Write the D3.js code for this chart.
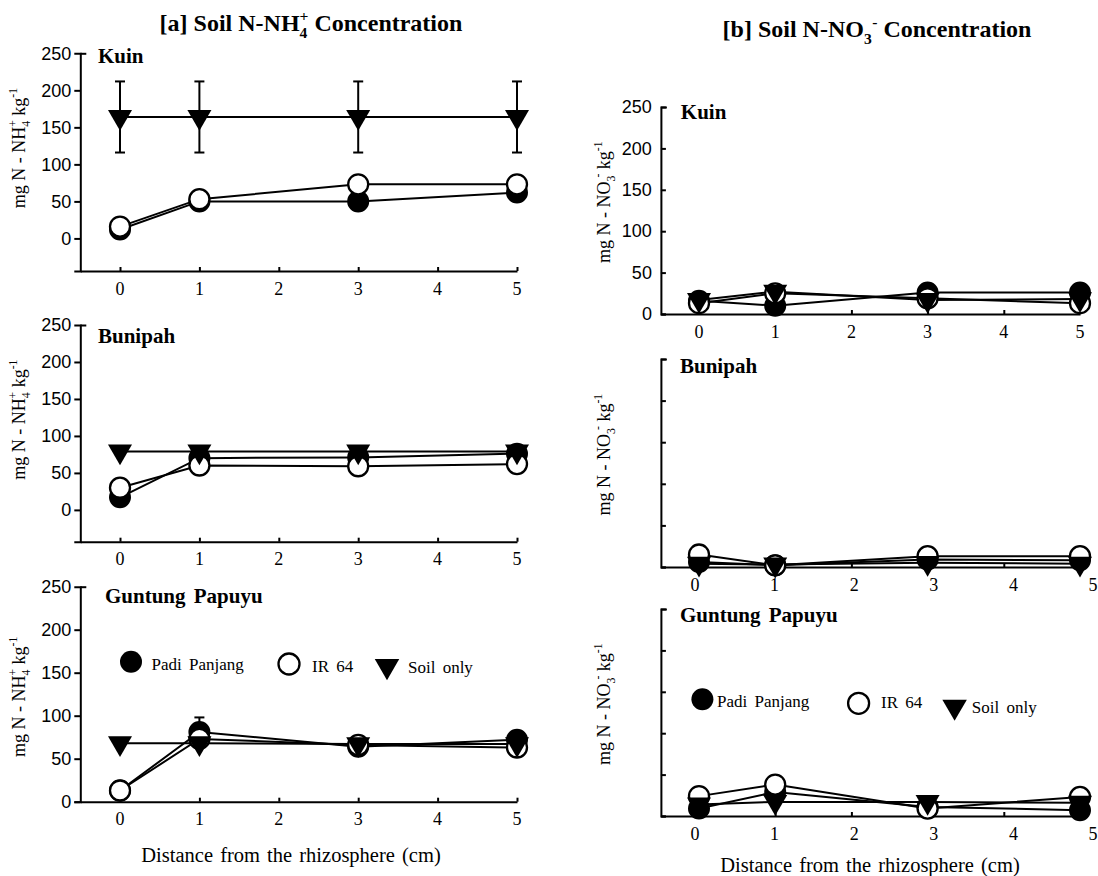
<!DOCTYPE html>
<html>
<head>
<meta charset="utf-8">
<script src="https://cdn.jsdelivr.net/npm/d3@7"></script>
<style>
	body{margin:0;background:#fff;}
	svg{display:block;font-family:"Liberation Serif","Times New Roman",serif;}
</style>
</head>
<body>
<svg id="chart" width="1098" height="876"></svg>
<script>
	var distances = [0, 1, 3, 5];
	var xTicks = [0, 1, 2, 3, 4, 5];
	var yTicks = [0, 50, 100, 150, 200, 250];
	var sites = ["Kuin", "Bunipah", "Guntung Papuyu"];
	var seriesNames = ["Padi Panjang", "IR 64", "Soil only"];

	// soil N-NH4+ (mg/kg), one row per site
	var nh4Padi = [[12,50,50,62],[17,70,71,76],[13,81,64,72]];
	var nh4IR64 = [[16,53,73,73],[30,60,59,62],[13,73,66,63]];
	var nh4Soil = [[164,164,164,164],[79,79,79,79],[68,68,67,67]];
	var nh4PadiErr = [[0,0,0,0],[0,0,0,0],[0,17,0,0]];
	var nh4SoilErr = [[48,48,48,48],[0,0,0,0],[0,0,0,0]];

	// soil N-NO3- (mg/kg)
	var no3Padi = [[16,10,26,26],[6,2,9,8],[9,29,11,7]];
	var no3IR64 = [[13,25,19,13],[15,2,13,13],[24,38,9,23]];
	var no3Soil = [[17,27,17,18],[4,3,5,4],[14,17,17,16]];

	var svg = d3.select("#chart");

	// layout of the six small plots
	var panels = [
		{col:"a",site:0,left:80.3,x5:517,top:53.3,bottom:271,ymin:-44,yLab:true,tickIn:false,lab:[98,63.3],xl:null},
		{col:"a",site:1,left:80.3,x5:517,top:325,bottom:541.7,ymin:-43,yLab:true,tickIn:false,lab:[98,343.3],xl:null},
		{col:"a",site:2,left:80.3,x5:517,top:586.7,bottom:801.7,ymin:0,yLab:true,tickIn:false,lab:[105,603.3],xl:null,
			legend:{c1:[131,661.7],t1:[151.5,670],c2:[289,664],t2:[312,672],c3:[387,666],t3:[408,673]}},
		{col:"b",site:0,left:660.9,x5:1080,top:107,bottom:314,ymin:0,yLab:true,tickIn:true,lab:[680.8,119],xl:null},
		{col:"b",site:1,left:660.9,x5:1080,top:359,bottom:567,ymin:0,yLab:false,tickIn:true,lab:[680,372.7],xl:[695,1093]},
		{col:"b",site:2,left:660.9,x5:1080,top:609,bottom:816,ymin:0,yLab:false,tickIn:true,lab:[680,621.7],xl:[695,1093],
			legend:{c1:[702.4,699.3],t1:[717,706.7],c2:[858.6,703.3],t2:[881,708],c3:[954.6,706.7],t3:[971.8,713]}}
	];

	function rich(sel, parts, fs) {
		var shift = 0;
		parts.forEach(function(p) {
			var ts = sel.append("tspan").text(p.t);
			var target = p.s=="sub" ? 0.3*fs : (p.s=="sup" ? -0.42*fs : 0);
			ts.attr("dy", target-shift);
			shift = target;
			if(p.s) ts.attr("font-size", fs*0.65);
			if(p.dx) ts.attr("dx", p.dx*fs);
		});
	}

	var tri = d3.symbol().type(d3.symbolTriangle).size(250);
	var triLeg = d3.symbol().type(d3.symbolTriangle).size(260);

	panels.forEach(function(p) {
		var isA = p.col=="a";
		var x = d3.scaleLinear().domain([-0.5,5]).range([p.left,p.x5]);
		var y = d3.scaleLinear().domain([p.ymin,250]).range([p.bottom,p.top]);
		var g = svg.append("g");

		// y axis
		var ya = d3.axisLeft(y).tickValues(yTicks).tickSizeOuter(0)
			.tickSize(p.tickIn ? -5 : 6).tickPadding(p.tickIn ? 9 : 3);
		if(!p.yLab) ya.tickFormat("");
		var yg = g.append("g").attr("transform","translate("+p.left+",0)").call(ya);
		yg.selectAll("text").attr("font-size",18).attr("fill","#000");
		yg.selectAll(".tick line").filter(function(d){return d==250;}).attr("x2",6);
		yg.selectAll("line,path").attr("stroke","#000").attr("stroke-width",2);

		// x axis
		var xa = d3.axisBottom(x).tickValues(xTicks).tickSize(-4).tickSizeOuter(0).tickFormat("");
		var xg = g.append("g").attr("transform","translate(0,"+p.bottom+")").call(xa);
		xg.selectAll("line,path").attr("stroke","#000").attr("stroke-width",2);
		var xl = p.xl ? d3.scaleLinear().domain([0,5]).range(p.xl) : x;
		g.selectAll(".xlab").data(xTicks).enter().append("text")
			.attr("x",function(d){return xl(d);})
			.attr("y",p.bottom+23.5)
			.attr("text-anchor","middle").attr("font-size",18).text(function(d){return d;});

		// y axis title
		var yt = g.append("text").attr("text-anchor","middle").attr("font-size",18)
			.attr("transform","translate("+(isA?25:610)+","+y(isA?122:135)+") rotate(-90)");
		if(isA) rich(yt,[{t:"mg N - NH"},{t:"4",s:"sub"},{t:"+",s:"sup",dx:-0.33},{t:" kg"},{t:"-1",s:"sup"}],18);
		else rich(yt,[{t:"mg N - NO"},{t:"3",s:"sub"},{t:"-",s:"sup",dx:-0.1},{t:" kg"},{t:"-1",s:"sup"}],18);

		// site name
		g.append("text").attr("x",p.lab[0]).attr("y",p.lab[1]).attr("font-size",21)
			.attr("font-weight","bold").attr("word-spacing",3).text(sites[p.site]);

		var padi = isA ? nh4Padi[p.site] : no3Padi[p.site];
		var ir = isA ? nh4IR64[p.site] : no3IR64[p.site];
		var soil = isA ? nh4Soil[p.site] : no3Soil[p.site];
		var padiErr = isA ? nh4PadiErr[p.site] : [0,0,0,0];
		var soilErr = isA ? nh4SoilErr[p.site] : [0,0,0,0];

		var line = d3.line().x(function(d,i){return x(distances[i]);}).y(function(d){return y(d);});
		[soil,padi,ir].forEach(function(s) {
			g.append("path").attr("d",line(s)).attr("fill","none").attr("stroke","#000").attr("stroke-width",2);
		});

		// error bars
		[[padi,padiErr],[soil,soilErr]].forEach(function(pair) {
			pair[0].forEach(function(v,i) {
				var e = pair[1][i];
				if(!e) return;
				var cx = x(distances[i]);
				g.append("line").attr("x1",cx).attr("x2",cx).attr("y1",y(v-e)).attr("y2",y(v+e))
					.attr("stroke","#000").attr("stroke-width",2);
				[v-e,v+e].forEach(function(w) {
					g.append("line").attr("x1",cx-5).attr("x2",cx+5).attr("y1",y(w)).attr("y2",y(w))
						.attr("stroke","#000").attr("stroke-width",2);
				});
			});
		});

		g.selectAll(".padi").data(padi).enter().append("circle")
			.attr("cx",function(d,i){return x(distances[i]);}).attr("cy",function(d){return y(d);})
			.attr("r",10).attr("fill","#000").attr("stroke","#000").attr("stroke-width",2);
		g.selectAll(".ir").data(ir).enter().append("circle")
			.attr("cx",function(d,i){return x(distances[i]);}).attr("cy",function(d){return y(d);})
			.attr("r",10).attr("fill","#fff").attr("stroke","#000").attr("stroke-width",2.3);
		g.selectAll(".soil").data(soil).enter().append("path")
			.attr("d",tri)
			.attr("transform",function(d,i){return "translate("+x(distances[i])+","+y(d)+") rotate(180)";})
			.attr("fill","#000");

		if(p.legend) {
			var L = p.legend;
			g.append("circle").attr("cx",L.c1[0]).attr("cy",L.c1[1]).attr("r",11).attr("fill","#000");
			g.append("circle").attr("cx",L.c2[0]).attr("cy",L.c2[1]).attr("r",10.5).attr("fill","#fff")
				.attr("stroke","#000").attr("stroke-width",2.3);
			g.append("path").attr("d",triLeg)
				.attr("transform","translate("+L.c3[0]+","+L.c3[1]+") rotate(180)").attr("fill","#000");
			[L.t1,L.t2,L.t3].forEach(function(t,i) {
				g.append("text").attr("x",t[0]).attr("y",t[1]).attr("font-size",17)
					.attr("word-spacing",3).text(seriesNames[i]);
			});
		}
	});

	// column titles
	var ta = svg.append("text").attr("x",311).attr("y",31).attr("text-anchor","middle")
		.attr("font-size",24).attr("font-weight","bold");
	rich(ta,[{t:"[a] Soil N-NH"},{t:"4",s:"sub"},{t:"+",s:"sup",dx:-0.33},{t:" Concentration"}],24);
	var tb = svg.append("text").attr("x",877).attr("y",37).attr("text-anchor","middle")
		.attr("font-size",24).attr("font-weight","bold");
	rich(tb,[{t:"[b] Soil N-NO"},{t:"3",s:"sub"},{t:"-",s:"sup",dx:0.02},{t:" Concentration"}],24);

	// x axis titles
	svg.append("text").attr("x",291).attr("y",862).attr("text-anchor","middle").attr("font-size",20.5)
		.attr("word-spacing",2).text("Distance from the rhizosphere (cm)");
	svg.append("text").attr("x",870).attr("y",872).attr("text-anchor","middle").attr("font-size",20.5)
		.attr("word-spacing",2).text("Distance from the rhizosphere (cm)");
</script>
</body>
</html>
